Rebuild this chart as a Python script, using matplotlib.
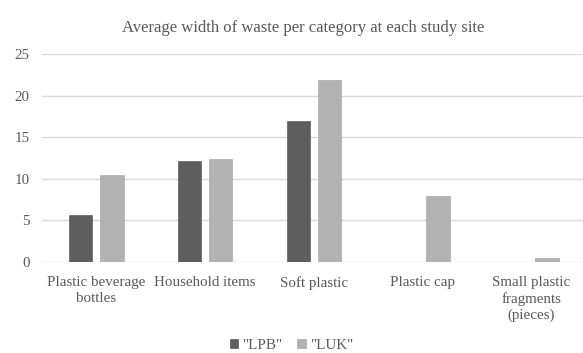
import matplotlib
matplotlib.use("Agg")
import matplotlib.pyplot as plt
import numpy as np

categories = ["Plastic beverage\nbottles", "Household items", "Soft plastic",
              "Plastic cap", "Small plastic\nfragments\n(pieces)"]
lpb = [5.6, 12.1, 16.9, 0, 0]
luk = [10.5, 12.4, 21.9, 7.95, 0.5]
series_names = ['"LPB"', '"LUK"']
yticks = [0, 5, 10, 15, 20, 25]

plt.rcParams['font.family'] = ['Liberation Serif', 'DejaVu Serif']
text_color = "#595959"

fig = plt.figure(figsize=(5.83, 3.53), dpi=100)
ax = fig.add_axes([0.0719, 0.2578, 0.9329, 0.5892])

x = np.arange(len(categories))
w = 0.216
off = 0.1435
ax.bar(x - off, lpb, w, color="#5e5e5e", edgecolor="#4a4a4a", linewidth=0.4,
       label=series_names[0], zorder=3)
ax.bar(x + off, luk, w, color="#b2b2b2", edgecolor="#a0a0a0", linewidth=0.4,
       label=series_names[1], zorder=3)

ax.set_xlim(-0.5, len(categories) - 0.5)
ax.set_ylim(0, 25)
ax.set_yticks(yticks)
ax.yaxis.grid(True, color="#d9d9d9", linewidth=1.0, zorder=0)
ax.set_axisbelow(True)
for s in ax.spines.values():
    s.set_visible(False)
ax.tick_params(axis="both", length=0, colors=text_color, labelsize=10.8)
ax.tick_params(axis="y", pad=9)
ax.tick_params(axis="x", pad=10)
ax.set_xticks(x)
ax.set_xticklabels(categories, linespacing=1.3)

fig.text(0.52, 0.921, "Average width of waste per category at each study site",
         ha="center", va="center", fontsize=12, color=text_color)

fig.legend(loc="center", bbox_to_anchor=(0.5, 0.022), ncol=2, frameon=False,
           fontsize=10.8, labelcolor=text_color, handlelength=0.55, handleheight=0.55,
           handletextpad=0.3, columnspacing=1.0)

fig.savefig("out.png", dpi=100)
